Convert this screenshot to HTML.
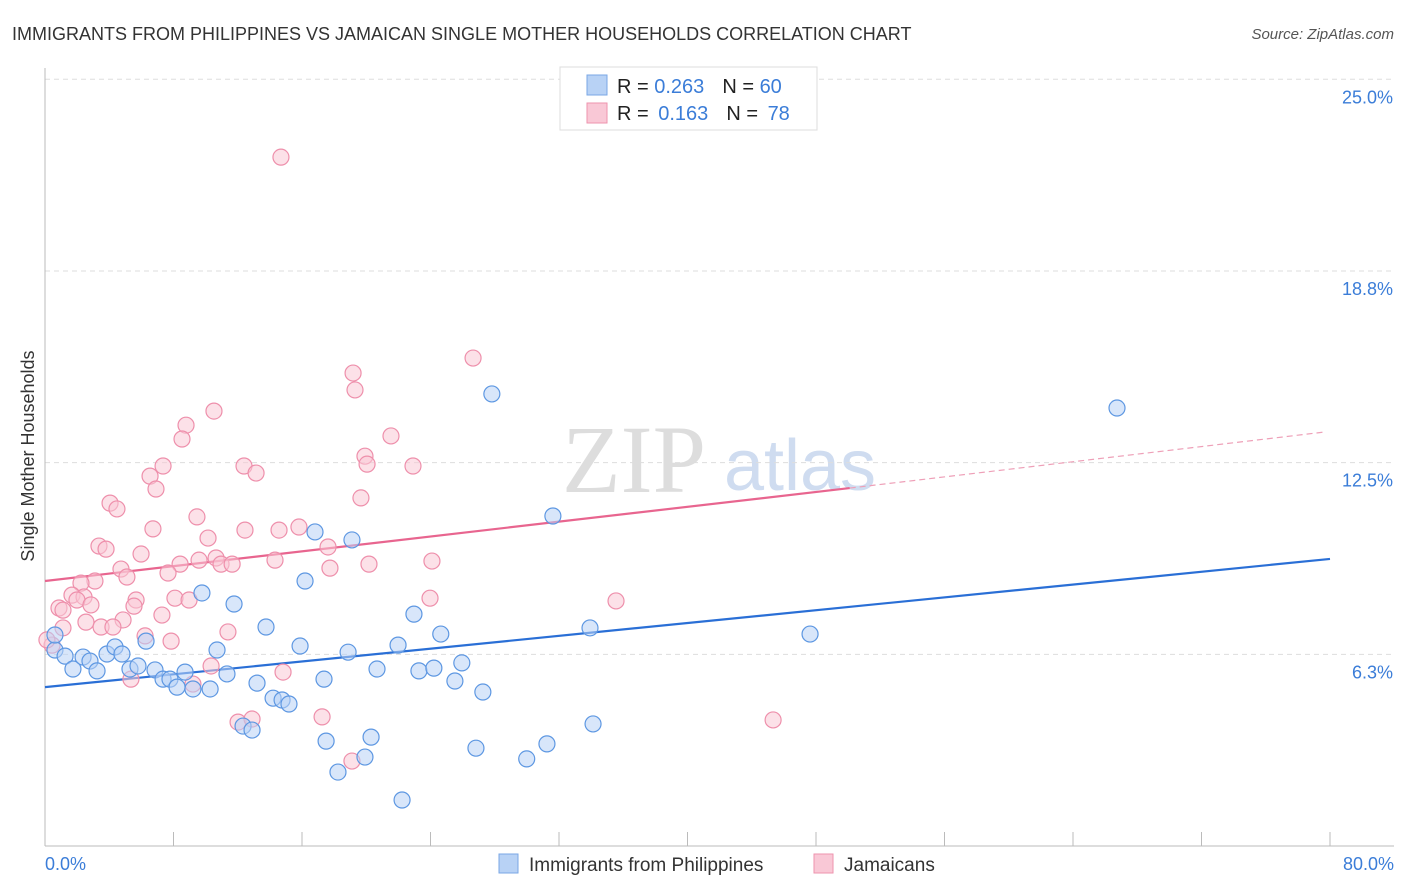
<!DOCTYPE html>
<html><head><meta charset="utf-8"><style>
body{margin:0;background:#fff;font-family:"Liberation Sans",sans-serif;}
svg{display:block}
</style></head><body>
<svg id="c" width="1406" height="892" xmlns="http://www.w3.org/2000/svg">
<text x="12" y="40" font-size="18" fill="#333">IMMIGRANTS FROM PHILIPPINES VS JAMAICAN SINGLE MOTHER HOUSEHOLDS CORRELATION CHART</text>
<text x="1394" y="39" font-size="15" fill="#555" font-style="italic" text-anchor="end">Source: ZipAtlas.com</text>
<text transform="translate(34,456) rotate(-90)" font-size="18" fill="#333" text-anchor="middle">Single Mother Households</text>
<g>
<text x="634" y="492" font-size="96" fill="#ddd" font-family="Liberation Serif,serif" text-anchor="middle">ZIP</text>
<text x="800" y="490" font-size="72" fill="#cfdcf0" text-anchor="middle">atlas</text>
</g>
<g id="grid"></g><g id="axes"></g><g id="trend"></g><g id="pts"></g>
<g>
<rect x="560" y="67" width="257" height="63" fill="#fff" stroke="#ddd"/>
<rect x="587" y="75" width="20" height="20" fill="#b8d2f5" stroke="#7aa7e5"/>
<rect x="587" y="103" width="20" height="20" fill="#f9c8d6" stroke="#ee93ae"/>
<text x="617" y="93" font-size="20" fill="#222">R = <tspan fill="#3b7dd8">0.263</tspan><tspan dx="18">N = </tspan><tspan fill="#3b7dd8">60</tspan></text>
<text x="617" y="120" font-size="20" fill="#222">R = <tspan fill="#3b7dd8" dx="4">0.163</tspan><tspan dx="18">N = </tspan><tspan fill="#3b7dd8" dx="4">78</tspan></text>
</g>
<g>
<rect x="499" y="854" width="19" height="19" fill="#b8d2f5" stroke="#7aa7e5"/>
<text x="529" y="871" font-size="19" fill="#333">Immigrants from Philippines</text>
<rect x="814" y="854" width="19" height="19" fill="#f9c8d6" stroke="#ee93ae"/>
<text x="844" y="871" font-size="19" fill="#333">Jamaicans</text>
</g>
</svg>
<script>
const xTickLabels=["0.0%","80.0%"];
const yTicks=[6.25,12.5,18.75,25];
const yTickLabels=["6.3%","12.5%","18.8%","25.0%"];
const blueX=[0.62,1.25,1.74,2.37,2.80,3.24,3.86,4.36,4.79,5.29,5.79,6.29,6.85,7.35,7.78,8.22,8.72,9.21,9.77,10.28,10.71,11.33,11.77,12.33,12.89,13.20,13.76,14.20,14.76,15.19,15.88,16.19,16.81,17.37,17.50,18.24,18.87,19.11,19.92,20.30,20.67,21.98,22.23,22.97,23.28,24.21,24.64,25.52,25.95,26.83,27.26,27.82,29.99,31.25,31.62,33.93,34.12,47.63,66.74,0.62];
const blueY=[6.39,6.19,5.77,6.16,6.03,5.71,6.26,6.49,6.26,5.77,5.87,6.68,5.74,5.44,5.44,5.18,5.67,5.12,8.25,5.12,6.39,5.61,7.89,3.91,3.78,5.31,7.14,4.82,4.76,4.63,6.52,8.64,10.24,5.44,3.42,2.41,6.32,9.98,2.90,3.55,5.77,6.55,1.50,7.56,5.71,5.80,6.91,5.38,5.97,3.19,5.02,14.74,2.84,3.33,10.76,7.11,3.98,6.91,14.28,6.88];
const pinkX=[14.69,26.65,19.18,19.30,10.52,8.78,8.53,21.54,19.92,20.05,22.91,7.35,12.39,13.14,6.54,6.91,19.67,4.05,4.48,9.46,6.72,12.45,14.57,15.81,3.36,3.80,5.98,10.15,17.62,8.41,9.59,10.65,10.96,11.65,14.32,17.74,20.17,24.09,4.73,5.10,7.66,3.11,2.24,1.68,2.43,1.99,2.86,0.87,1.12,5.67,5.54,8.09,8.97,23.97,35.55,7.28,4.86,2.55,3.49,4.23,1.12,0.44,6.23,7.85,11.39,10.34,14.82,5.35,9.21,12.02,12.89,17.25,19.11,45.33,0.12];
const pinkY=[22.46,15.91,15.42,14.87,14.18,13.72,13.27,13.37,12.71,12.45,12.39,12.39,12.39,12.16,12.06,11.64,11.35,11.18,10.99,10.73,10.34,10.30,10.30,10.40,9.78,9.68,9.52,10.04,9.75,9.19,9.32,9.39,9.19,9.19,9.32,9.06,9.19,9.29,9.03,8.77,8.90,8.64,8.57,8.18,8.12,8.02,7.86,7.76,7.69,8.02,7.82,8.08,8.02,8.08,7.99,7.53,7.37,7.30,7.14,7.14,7.11,6.55,6.85,6.68,6.98,5.87,5.67,5.44,5.28,4.04,4.14,4.21,2.77,4.11,6.72];
const blueTrendX=[0,80], blueTrendY=[5.18,9.36];
const pinkTrendX=[0,50.1], pinkTrendY=[8.64,11.67];
const pinkDashX=[50.1,79.7], pinkDashY=[11.67,13.5];

const NS="http://www.w3.org/2000/svg";
const X=v=>45+v/80*1285;
const Y=v=>846-v*30.67;
function mk(tag,attrs,parent){const e=document.createElementNS(NS,tag);for(const k in attrs)e.setAttribute(k,attrs[k]);document.getElementById(parent).appendChild(e);return e;}
yTicks.forEach((t,i)=>{
 const g=mk('line',{x1:45,x2:1394,y1:Y(t),y2:Y(t),stroke:'#ddd','stroke-dasharray':'5,4'},'grid');
 
 
 const l=mk('text',{x:1393,y:Y(t)+24,'font-size':18,fill:'#3b7dd8','text-anchor':'end'},'axes');
 l.textContent=yTickLabels[i];
 
 
});
let a=mk('line',{x1:45,x2:45,y1:68,y2:846,stroke:'#bbb'},'axes');


a=mk('line',{x1:45,x2:1394,y1:846,y2:846,stroke:'#bbb'},'axes');


for(let i=1;i<=10;i++){const t=mk('line',{x1:X(i*8),x2:X(i*8),y1:832,y2:846,stroke:'#bbb'},'axes');
 
 }
[[0,'start',45],[80,'end',1394]].forEach((p,i)=>{const t=mk('text',{x:p[2],y:870,'font-size':18,fill:'#3b7dd8','text-anchor':p[1]},'axes');t.textContent=xTickLabels[i];
 
 });
function pts(xs,ys,fill,stroke,name){xs.forEach((v,i)=>{const c=mk('circle',{cx:X(v),cy:Y(ys[i]),r:8,fill:fill,'fill-opacity':0.55,stroke:stroke,'stroke-width':1.2},'pts');
 
 });}
pts(pinkX,pinkY,'#f9c8d6','#ee8fab','point-jamaicans');
pts(blueX,blueY,'#b8d2f5','#5d97e2','point-philippines');
let tl=mk('line',{x1:X(blueTrendX[0]),y1:Y(blueTrendY[0]),x2:X(blueTrendX[1]),y2:Y(blueTrendY[1]),stroke:'#2a6fd6','stroke-width':2.2},'trend');


tl=mk('line',{x1:X(pinkTrendX[0]),y1:Y(pinkTrendY[0]),x2:X(pinkTrendX[1]),y2:Y(pinkTrendY[1]),stroke:'#e8658f','stroke-width':2.2},'trend');


tl=mk('line',{x1:X(pinkDashX[0]),y1:Y(pinkDashY[0]),x2:X(pinkDashX[1]),y2:Y(pinkDashY[1]),stroke:'#eea0b8','stroke-width':1.2,'stroke-dasharray':'6,4'},'trend');


</script>
</body></html>
